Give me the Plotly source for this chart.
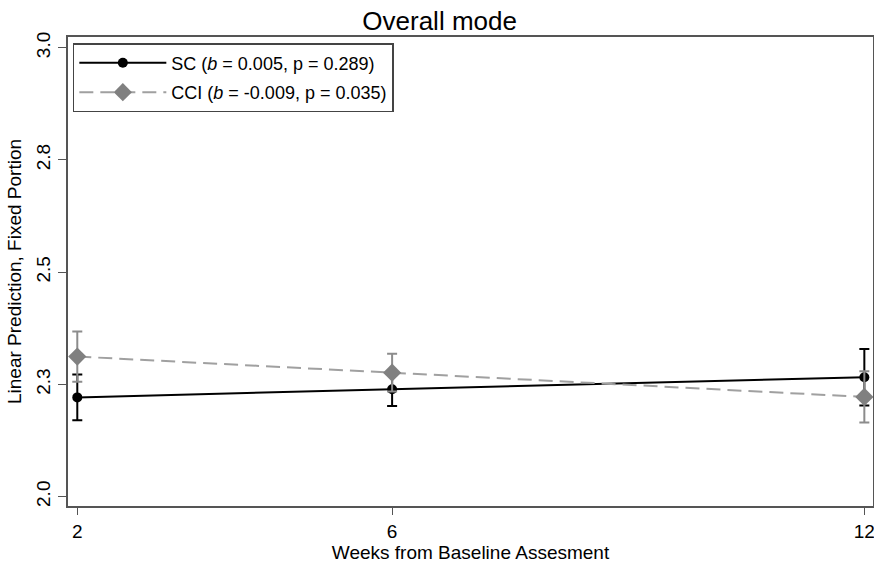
import plotly.graph_objects as go

weeks = [2, 6, 12]
sc_mean = [2.221, 2.239, 2.266]
sc_err = [0.051, 0.037, 0.063]
cci_mean = [2.312, 2.276, 2.222]
cci_err = [0.056, 0.042, 0.057]

y_tickvals = [2.0, 2.25, 2.5, 2.75, 3.0]
y_ticktext = ["2.0", "2.3", "2.5", "2.8", "3.0"]
x_tickvals = [2, 6, 12]

FONT = "Liberation Sans, Arial, sans-serif"
AX = "#555555"

fig = go.Figure()
fig.add_trace(go.Scatter(
    x=weeks, y=sc_mean, mode="lines+markers",
    name="SC (<i>b</i> = 0.005, p = 0.289)",
    line=dict(color="black", width=2),
    marker=dict(color="black", size=10, symbol="circle"),
    error_y=dict(type="data", array=sc_err, color="black", thickness=2, width=5),
    legendgroup="sc",
))
fig.add_trace(go.Scatter(
    x=weeks, y=cci_mean, mode="lines+markers",
    name="CCI (<i>b</i> = -0.009, p = 0.035)",
    line=dict(color="#a0a0a0", width=2, dash="14px,7px"),
    marker=dict(color="#808080", size=14, symbol="diamond"),
    error_y=dict(type="data", array=cci_err, color="#8c8c8c", thickness=2, width=5),
    legendgroup="cci",
))

fig.update_layout(
    width=874, height=568,
    margin=dict(l=68, r=1, t=37, b=62),
    paper_bgcolor="white", plot_bgcolor="white",
    font=dict(family=FONT, size=19, color="black"),
    title=dict(text="Overall mode", x=0.503, xanchor="center", y=0.964, yanchor="middle",
               font=dict(size=26, color="black")),
    showlegend=True,
    legend=dict(x=0.006, y=0.987, xanchor="left", yanchor="top",
                bgcolor="white", bordercolor="#444444", borderwidth=1.5,
                font=dict(size=18), itemwidth=87, traceorder="grouped",
                tracegroupgap=3),
    xaxis=dict(range=[1.882, 12.11], tickvals=x_tickvals, ticks="outside", ticklen=7,
               tickcolor=AX, showline=True, linecolor=AX, linewidth=2, mirror=True,
               showgrid=False, zeroline=False, automargin=False,
               ticklabeloverflow="allow",
               tickfont=dict(size=19),
               title=dict(text="Weeks from Baseline Assesment", standoff=4, font=dict(size=19))),
    yaxis=dict(range=[1.979, 3.024], tickvals=y_tickvals, ticktext=y_ticktext,
               tickangle=-90, ticks="outside", ticklen=8, tickcolor=AX,
               showline=True, linecolor=AX, linewidth=2, mirror=True,
               showgrid=False, zeroline=False, automargin=False,
               tickfont=dict(size=19),
               title=dict(text="Linear Prediction, Fixed Portion", standoff=7, font=dict(size=19))),
)

# remove the page's default body margin so the figure fills the window exactly
fig.write_html("out.html",
               config={"displayModeBar": False},
               post_script="document.body.style.margin='0';document.body.style.overflow='hidden';")
